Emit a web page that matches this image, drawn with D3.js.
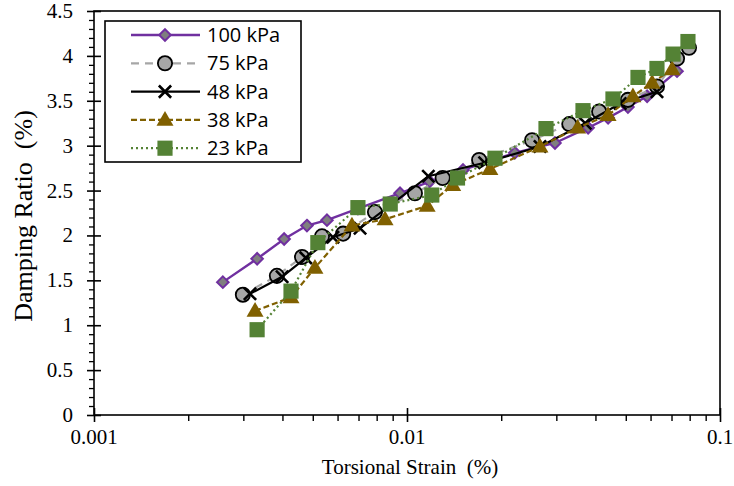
<!DOCTYPE html>
<html>
<head>
<meta charset="utf-8">
<script src="https://cdn.jsdelivr.net/npm/d3@7"></script>
<style>
  body { margin: 0; background: #fff; }
  .tick-label { font-family: "Liberation Serif", "Times New Roman", serif; font-size: 21px; fill: #000; }
  .axis-title { font-family: "Liberation Serif", "Times New Roman", serif; fill: #000; }
  .legend-text { font-family: "Open Sans", sans-serif; font-size: 20px; fill: #000; }
</style>
</head>
<body>
<div id="chart"></div>
<script>
// strain (%) and damping ratio (%) for each confining pressure
const strain100 = [0.00258, 0.00332, 0.00405, 0.00479, 0.00555, 0.00697, 0.0095, 0.0118, 0.0151, 0.0221, 0.0297, 0.0379, 0.0439, 0.0508, 0.0585, 0.0729];
const damp100   = [1.48, 1.74, 1.96, 2.11, 2.17, 2.30, 2.47, 2.60, 2.73, 2.92, 3.03, 3.20, 3.31, 3.43, 3.55, 3.83];

const strain75 = [0.00299, 0.00384, 0.00462, 0.00535, 0.00625, 0.0079, 0.0106, 0.013, 0.017, 0.0251, 0.033, 0.0411, 0.0508, 0.0629, 0.0729, 0.0796];
const damp75   = [1.34, 1.55, 1.76, 1.99, 2.02, 2.26, 2.47, 2.64, 2.84, 3.06, 3.24, 3.38, 3.51, 3.66, 3.97, 4.09];

const strain48 = [0.00315, 0.00399, 0.00475, 0.0058, 0.00708, 0.0117, 0.0177, 0.0266, 0.0371, 0.048, 0.0629];
const damp48   = [1.35, 1.54, 1.75, 1.98, 2.08, 2.66, 2.81, 2.99, 3.25, 3.47, 3.60];

const strain38 = [0.00327, 0.00426, 0.00508, 0.00667, 0.00851, 0.0116, 0.014, 0.0184, 0.0266, 0.0351, 0.0439, 0.0527, 0.0607, 0.0703];
const damp38   = [1.16, 1.31, 1.64, 2.11, 2.18, 2.33, 2.56, 2.74, 2.99, 3.20, 3.34, 3.55, 3.70, 3.85];

const strain23 = [0.00332, 0.00426, 0.00519, 0.00697, 0.00884, 0.012, 0.0145, 0.0191, 0.0278, 0.0365, 0.0455, 0.0547, 0.0629, 0.0708, 0.079];
const damp23   = [0.95, 1.38, 1.92, 2.31, 2.35, 2.45, 2.64, 2.86, 3.19, 3.39, 3.52, 3.76, 3.86, 4.02, 4.16];

const seriesNames = ['100 kPa', '75 kPa', '48 kPa', '38 kPa', '23 kPa'];
const xTickValues = [0.001, 0.01, 0.1];
const xTickLabels = ['0.001', '0.01', '0.1'];
const yTickValues = [0, 0.5, 1, 1.5, 2, 2.5, 3, 3.5, 4, 4.5];
const yTickLabels = ['0', '0.5', '1', '1.5', '2', '2.5', '3', '3.5', '4', '4.5'];

const series = [
  {name: seriesNames[0], xs: strain100, ys: damp100, color: '#7030A0', dash: null, width: 2.4, marker: 'diamond'},
  {name: seriesNames[1], xs: strain75, ys: damp75, color: '#A6A6A6', dash: '8,6', width: 2.2, marker: 'circle'},
  {name: seriesNames[2], xs: strain48, ys: damp48, color: '#000000', dash: null, width: 2.2, marker: 'cross'},
  {name: seriesNames[3], xs: strain38, ys: damp38, color: '#806000', dash: '6,3', width: 2.2, marker: 'triangle'},
  {name: seriesNames[4], xs: strain23, ys: damp23, color: '#548235', dash: '2,3', width: 2.2, marker: 'square'}
];

const W = 734, H = 486;
const plot = {left: 94, right: 720, top: 11, bottom: 415};

const svg = d3.select('#chart').append('svg').attr('width', W).attr('height', H);

const x = d3.scaleLog().domain([0.001, 0.1]).range([plot.left, plot.right]);
const y = d3.scaleLinear().domain([0, 4.5]).range([plot.bottom, plot.top]);

// frame
svg.append('rect')
  .attr('x', plot.left).attr('y', plot.top)
  .attr('width', plot.right - plot.left).attr('height', plot.bottom - plot.top)
  .attr('fill', 'none').attr('stroke', '#000').attr('stroke-width', 1.6);

// x axis: minor ticks outside, major ticks crossing
const xMinor = [];
[0.001, 0.01].forEach(dec => { for (let k = 2; k <= 9; k++) xMinor.push(dec * k); });
const xAxisG = svg.append('g').attr('transform', `translate(0,${plot.bottom})`);
xAxisG.call(d3.axisBottom(x).tickValues(xMinor).tickSize(6).tickFormat(''))
  .call(g => g.select('.domain').remove())
  .call(g => g.selectAll('line').attr('stroke-width', 1.4));
xAxisG.append('g').call(d3.axisBottom(x).tickValues(xTickValues).tickSize(7).tickFormat(''))
  .call(g => g.select('.domain').remove())
  .call(g => g.selectAll('line').attr('y1', -7).attr('stroke-width', 1.6));
svg.append('g').selectAll('text')
  .data(xTickValues)
  .enter().append('text')
  .attr('class', 'tick-label')
  .attr('x', d => x(d))
  .attr('y', 444)
  .attr('text-anchor', 'middle')
  .text((d, i) => xTickLabels[i]);

// y axis
const yMinor = d3.range(0, 45).map(i => i / 10).filter(v => Math.round(v * 10) % 5 !== 0);
const yAxisG = svg.append('g').attr('transform', `translate(${plot.left},0)`);
yAxisG.call(d3.axisLeft(y).tickValues(yMinor).tickSize(5).tickFormat(''))
  .call(g => g.select('.domain').remove())
  .call(g => g.selectAll('line').attr('stroke-width', 1.3));
yAxisG.append('g').call(d3.axisLeft(y).tickValues(yTickValues).tickSize(7).tickFormat(''))
  .call(g => g.select('.domain').remove())
  .call(g => g.selectAll('line').attr('x1', 7).attr('stroke-width', 1.6));
svg.append('g').selectAll('text')
  .data(yTickValues)
  .enter().append('text')
  .attr('class', 'tick-label')
  .attr('x', 73)
  .attr('y', d => y(d) + 7)
  .attr('text-anchor', 'end')
  .text((d, i) => yTickLabels[i]);

// titles
svg.append('text').attr('class', 'axis-title')
  .attr('x', 410).attr('y', 474).attr('text-anchor', 'middle')
  .attr('xml:space', 'preserve')
  .style('font-size', '21px')
  .text('Torsional Strain  (%)');
svg.append('text').attr('class', 'axis-title')
  .attr('transform', 'translate(32,216) rotate(-90)')
  .attr('text-anchor', 'middle')
  .attr('xml:space', 'preserve')
  .style('font-size', '26px')
  .text('Damping Ratio  (%)');

const sym = {
  diamond: d3.symbol().type(d3.symbolDiamond2).size(85),
  circle: d3.symbol().type(d3.symbolCircle).size(160),
  cross: d3.symbol().type(d3.symbolTimes).size(100),
  triangle: d3.symbol().type(d3.symbolTriangle).size(125),
  square: d3.symbol().type(d3.symbolSquare).size(230)
};

function drawMarker(g, s, px, py) {
  const m = g.append('path')
    .attr('transform', `translate(${px},${py})`)
    .attr('d', sym[s.marker]());
  if (s.marker === 'diamond') {
    m.attr('fill', '#7F7F7F').attr('stroke', '#7030A0').attr('stroke-width', 2);
  } else if (s.marker === 'circle') {
    m.attr('fill', '#A6A6A6').attr('stroke', '#000').attr('stroke-width', 1.8);
  } else if (s.marker === 'cross') {
    m.attr('fill', 'none').attr('stroke', '#000').attr('stroke-width', 2.6);
  } else if (s.marker === 'triangle') {
    m.attr('fill', '#806000').attr('stroke', 'none').attr('transform', `translate(${px},${py + 1})`);
  } else {
    m.attr('fill', '#548235').attr('stroke', 'none');
  }
}

const line = d3.line().x(d => x(d[0])).y(d => y(d[1]));
const dataG = svg.append('g');

series.forEach(s => {
  const pts = s.xs.map((v, i) => [v, s.ys[i]]);
  const g = dataG.append('g').attr('class', 'series');
  g.append('path')
    .attr('d', line(pts))
    .attr('fill', 'none')
    .attr('stroke', s.color)
    .attr('stroke-width', s.width)
    .attr('stroke-dasharray', s.dash);
  pts.forEach(p => drawMarker(g, s, x(p[0]), y(p[1])));
});

// legend
const lg = svg.append('g');
lg.append('rect')
  .attr('x', 105).attr('y', 21).attr('width', 196).attr('height', 141)
  .attr('fill', '#fff').attr('stroke', '#000').attr('stroke-width', 1.6);
series.forEach((s, i) => {
  const ry = 35 + i * 28.3;
  lg.append('line')
    .attr('x1', 131).attr('x2', 200).attr('y1', ry).attr('y2', ry)
    .attr('stroke', s.color).attr('stroke-width', s.width)
    .attr('stroke-dasharray', s.dash);
  drawMarker(lg, s, 165, ry);
  lg.append('text').attr('class', 'legend-text')
    .attr('x', 207).attr('y', ry + 7)
    .text(s.name);
});
</script>
</body>
</html>
